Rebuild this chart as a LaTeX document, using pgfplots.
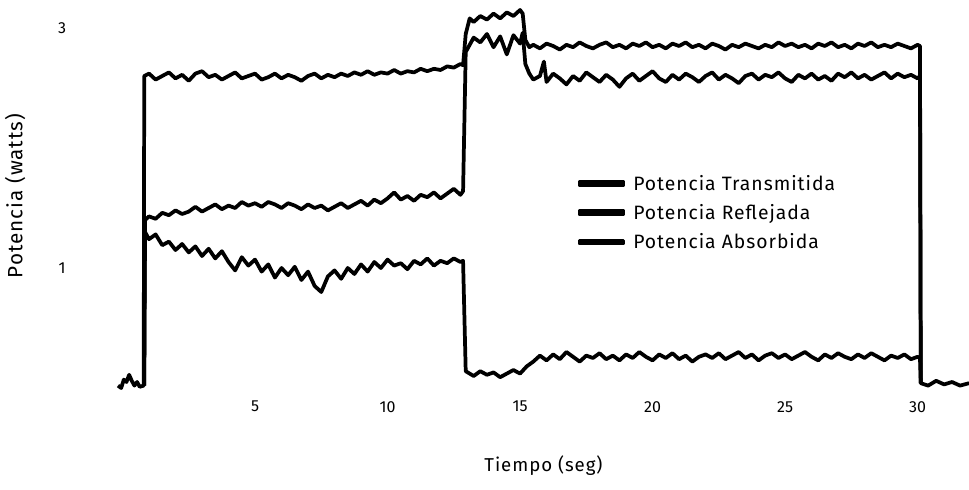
\documentclass[border=0pt]{standalone}
\usepackage{pgfplots}
\pgfplotsset{compat=1.18}
\usepackage{fontspec}
\setmainfont{Fira Sans}
\newfontfamily\lsfont{Fira Sans}[LetterSpace=5.0]
\begin{document}
\begin{tikzpicture}
\path[use as bounding box] (-88.5pt,-75.75pt) rectangle (638.25pt,291pt);
\begin{axis}[
  at={(0pt,0pt)}, anchor=south west,
  scale only axis, width=638.25pt, height=288pt,
  xmin=-0.17, xmax=31.94, ymin=0, ymax=3.2,
  axis line style={draw=none},
  major tick length=0pt,
  xtick={5,10,15,20,25,30},
  ytick={1,3},
  font=\fontsize{12}{14}\selectfont,
  /pgf/number format/assume math mode=true,
  xticklabel style={anchor=center, yshift=-14pt},
  yticklabel style={anchor=center, xshift=-42pt},
  xlabel={Tiempo (seg)},
  ylabel={Potencia (watts)},
  xlabel style={at={(axis description cs:0.5,-0.203)}, anchor=center, font=\lsfont\fontsize{14}{16}\selectfont},
  ylabel style={at={(axis description cs:-0.121,0.5)}, anchor=center, font=\lsfont\fontsize{15.5}{17}\selectfont},
  clip=false,
  legend style={at={(axis description cs:0.535,0.569)}, anchor=north west, draw=none, fill=none,
    font=\lsfont\fontsize{14.5}{16}\selectfont, row sep=5pt},
  legend cell align=left,
  legend image code/.code={\fill[black] (0pt,-1.05pt) rectangle (33pt,1.05pt); \path (37pt,0pt);},
  cycle list={{black},{black},{black}},
  every axis plot/.append style={line width=2.8pt, line join=round, no markers},
]
% Potencia Transmitida
\addplot table {
-0.17 0.02
-0.05 0.00
0.05 0.07
0.15 0.05
0.25 0.11
0.35 0.06
0.45 0.02
0.55 0.05
0.65 0.01
0.80 0.02
0.82 2.60
1.0 2.62
1.25 2.57
1.5 2.60
1.75 2.63
2.0 2.58
2.25 2.61
2.5 2.56
2.75 2.62
3.0 2.64
3.25 2.59
3.5 2.61
3.75 2.57
4.0 2.60
4.25 2.63
4.5 2.58
4.75 2.60
5.0 2.62
5.25 2.57
5.5 2.59
5.75 2.62
6.0 2.58
6.25 2.61
6.5 2.59
6.75 2.56
7.0 2.60
7.25 2.62
7.5 2.58
7.75 2.61
8.0 2.59
8.25 2.62
8.5 2.60
8.75 2.63
9.0 2.61
9.25 2.64
9.5 2.61
9.75 2.63
10.0 2.62
10.25 2.65
10.5 2.62
10.75 2.64
11.0 2.63
11.25 2.66
11.5 2.64
11.75 2.66
12.0 2.65
12.25 2.68
12.5 2.67
12.75 2.70
12.85 2.69
12.95 2.95
13.1 3.08
13.25 3.05
13.5 3.10
13.75 3.07
14.0 3.12
14.25 3.08
14.5 3.13
14.75 3.10
15.0 3.15
15.1 3.12
15.2 2.90
15.35 2.84
15.5 2.86
15.75 2.83
16.0 2.87
16.25 2.85
16.5 2.82
16.75 2.86
17.0 2.84
17.25 2.88
17.5 2.85
17.75 2.83
18.0 2.86
18.25 2.88
18.5 2.84
18.75 2.86
19.0 2.83
19.25 2.87
19.5 2.85
19.75 2.88
20.0 2.84
20.25 2.86
20.5 2.83
20.75 2.87
21.0 2.85
21.25 2.88
21.5 2.84
21.75 2.86
22.0 2.83
22.25 2.87
22.5 2.85
22.75 2.82
23.0 2.86
23.25 2.84
23.5 2.87
23.75 2.85
24.0 2.83
24.25 2.86
24.5 2.84
24.75 2.88
25.0 2.85
25.25 2.87
25.5 2.84
25.75 2.86
26.0 2.83
26.25 2.87
26.5 2.85
26.75 2.88
27.0 2.84
27.25 2.86
27.5 2.83
27.75 2.87
28.0 2.85
28.25 2.88
28.5 2.84
28.75 2.86
29.0 2.84
29.25 2.87
29.5 2.85
29.75 2.83
30.0 2.86
30.09 2.85
30.12 0.04
30.4 0.02
30.7 0.06
31.0 0.03
31.3 0.05
31.6 0.02
31.94 0.04
};
\addlegendentry{Potencia Transmitida}
% Potencia Reflejada
\addplot table {
0.82 0.02
0.85 1.40
1.0 1.43
1.25 1.41
1.5 1.46
1.75 1.44
2.0 1.48
2.25 1.45
2.5 1.47
2.75 1.51
3.0 1.47
3.25 1.50
3.5 1.53
3.75 1.49
4.0 1.52
4.25 1.50
4.5 1.55
4.75 1.52
5.0 1.54
5.25 1.51
5.5 1.55
5.75 1.53
6.0 1.50
6.25 1.54
6.5 1.52
6.75 1.49
7.0 1.53
7.25 1.50
7.5 1.52
7.75 1.48
8.0 1.51
8.25 1.54
8.5 1.50
8.75 1.53
9.0 1.56
9.25 1.52
9.5 1.57
9.75 1.54
10.0 1.58
10.25 1.63
10.5 1.57
10.75 1.60
11.0 1.56
11.25 1.61
11.5 1.59
11.75 1.63
12.0 1.58
12.25 1.62
12.5 1.66
12.75 1.61
12.85 1.64
12.95 2.80
13.1 2.86
13.25 2.92
13.5 2.88
13.75 2.95
14.0 2.84
14.25 2.93
14.5 2.78
14.75 2.94
15.0 2.87
15.1 2.96
15.2 2.70
15.35 2.62
15.5 2.57
15.75 2.60
15.9 2.72
16.0 2.55
16.25 2.62
16.5 2.58
16.75 2.53
17.0 2.60
17.25 2.56
17.5 2.63
17.75 2.59
18.0 2.55
18.25 2.61
18.5 2.57
18.75 2.51
19.0 2.58
19.25 2.62
19.5 2.56
19.75 2.60
20.0 2.64
20.25 2.58
20.5 2.55
20.75 2.61
21.0 2.57
21.25 2.62
21.5 2.59
21.75 2.55
22.0 2.60
22.25 2.63
22.5 2.57
22.75 2.61
23.0 2.58
23.25 2.54
23.5 2.60
23.75 2.62
24.0 2.57
24.25 2.61
24.5 2.59
24.75 2.63
25.0 2.58
25.25 2.55
25.5 2.61
25.75 2.58
26.0 2.62
26.25 2.57
26.5 2.60
26.75 2.56
27.0 2.62
27.25 2.59
27.5 2.63
27.75 2.58
28.0 2.61
28.25 2.57
28.5 2.60
28.75 2.63
29.0 2.58
29.25 2.62
29.5 2.59
29.75 2.61
30.0 2.58
30.09 2.60
30.12 0.04
};
\addlegendentry{Potencia Reflejada}
% Potencia Absorbida
\addplot table {
0.82 0.02
0.85 1.30
1.0 1.24
1.25 1.28
1.5 1.19
1.75 1.22
2.0 1.15
2.25 1.20
2.5 1.13
2.75 1.18
3.0 1.10
3.25 1.16
3.5 1.08
3.75 1.14
4.0 1.05
4.25 0.98
4.5 1.09
4.75 1.02
5.0 1.07
5.25 0.97
5.5 1.03
5.75 0.92
6.0 1.00
6.25 0.94
6.5 1.01
6.75 0.90
7.0 0.97
7.25 0.85
7.5 0.80
7.75 0.93
8.0 0.98
8.25 0.91
8.5 1.00
8.75 0.95
9.0 1.03
9.25 0.97
9.5 1.05
9.75 1.00
10.0 1.07
10.25 1.02
10.5 1.04
10.75 0.99
11.0 1.06
11.25 1.03
11.5 1.08
11.75 1.02
12.0 1.06
12.25 1.04
12.5 1.08
12.75 1.05
12.85 1.06
12.95 0.14
13.25 0.10
13.5 0.14
13.75 0.11
14.0 0.13
14.25 0.09
14.5 0.12
14.75 0.15
15.0 0.12
15.25 0.18
15.5 0.22
15.75 0.27
16.0 0.23
16.25 0.28
16.5 0.24
16.75 0.30
17.0 0.26
17.25 0.22
17.5 0.27
17.75 0.25
18.0 0.29
18.25 0.24
18.5 0.27
18.75 0.23
19.0 0.28
19.25 0.25
19.5 0.30
19.75 0.26
20.0 0.23
20.25 0.28
20.5 0.25
20.75 0.29
21.0 0.24
21.25 0.27
21.5 0.22
21.75 0.26
22.0 0.28
22.25 0.25
22.5 0.29
22.75 0.24
23.0 0.27
23.25 0.30
23.5 0.25
23.75 0.28
24.0 0.23
24.25 0.27
24.5 0.29
24.75 0.25
25.0 0.28
25.25 0.24
25.5 0.27
25.75 0.30
26.0 0.26
26.25 0.23
26.5 0.28
26.75 0.25
27.0 0.29
27.25 0.26
27.5 0.24
27.75 0.28
28.0 0.25
28.25 0.29
28.5 0.26
28.75 0.23
29.0 0.27
29.25 0.25
29.5 0.28
29.75 0.24
30.0 0.26
30.09 0.25
30.12 0.04
};
\addlegendentry{Potencia Absorbida}
\end{axis}
\end{tikzpicture}
\end{document}
